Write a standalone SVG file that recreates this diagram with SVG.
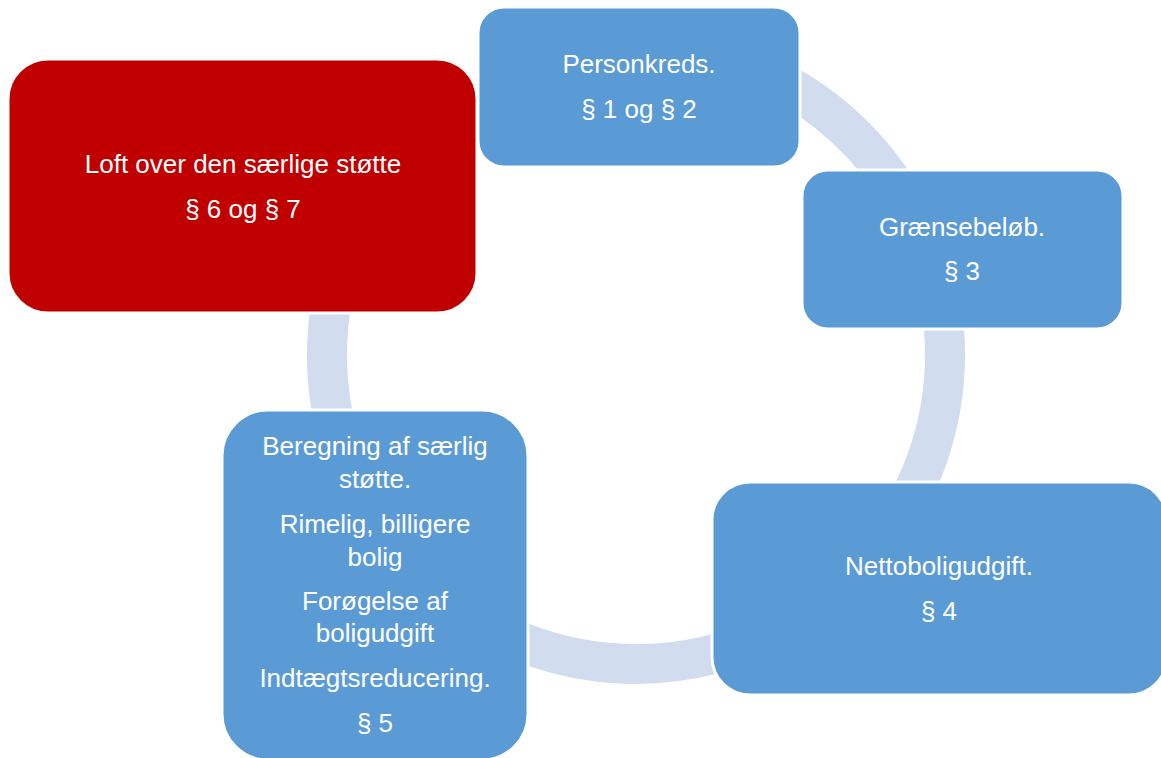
<svg xmlns="http://www.w3.org/2000/svg" width="1161" height="758" viewBox="0 0 1161 758">
<style>
.ring{fill:none;stroke:#D1DDEF;stroke-width:40}
.box{stroke:#FFFFFF;stroke-width:3}
.blue{fill:#5B9BD5}
.red{fill:#C00000}
.t{font-family:"Liberation Sans",Arial,sans-serif;font-size:26px;fill:#FFFFFF;text-anchor:middle}
</style>
<rect width="1161" height="758" fill="#FFFFFF"/>
<g id="connectors">
<path class="ring" d="M741.7,64.6 A309,309 0 0 1 916.1,224.4"/>
<path class="ring" d="M940.3,301.3 A309,309 0 0 1 903.6,509.5"/>
<path class="ring" d="M790.5,622.6 A309,309 0 0 1 458.8,608.1"/>
<path class="ring" d="M345.6,460.7 A309,309 0 0 1 345.6,249.3"/>
</g>
<g id="node-personkreds">
<rect class="box blue" x="478" y="7" width="322" height="160" rx="26" ry="26"/>
<text class="t" x="639" y="73">Personkreds.</text>
<text class="t" x="639" y="118">§ 1 og § 2</text>
</g>
<g id="node-graensebeloeb">
<rect class="box blue" x="802" y="170" width="321" height="159" rx="26" ry="26"/>
<text class="t" x="962" y="236">Grænsebeløb.</text>
<text class="t" x="962" y="280">§ 3</text>
</g>
<g id="node-nettoboligudgift">
<rect class="box blue" x="712" y="482" width="455" height="213" rx="38" ry="38"/>
<text class="t" x="939" y="575">Nettoboligudgift.</text>
<text class="t" x="939" y="620">§ 4</text>
</g>
<g id="node-beregning">
<rect class="box blue" x="222" y="410" width="306" height="350" rx="46" ry="46"/>
<text class="t" x="375" y="455">Beregning af særlig</text>
<text class="t" x="375" y="488">støtte.</text>
<text class="t" x="375" y="533">Rimelig, billigere</text>
<text class="t" x="375" y="566">bolig</text>
<text class="t" x="375" y="610">Forøgelse af</text>
<text class="t" x="375" y="642">boligudgift</text>
<text class="t" x="375" y="687">Indtægtsreducering.</text>
<text class="t" x="375" y="732">§ 5</text>
</g>
<g id="node-loft">
<rect class="box red" x="8" y="59" width="469" height="254" rx="40" ry="40"/>
<text class="t" x="243" y="173">Loft over den særlige støtte</text>
<text class="t" x="243" y="218">§ 6 og § 7</text>
</g>
</svg>
